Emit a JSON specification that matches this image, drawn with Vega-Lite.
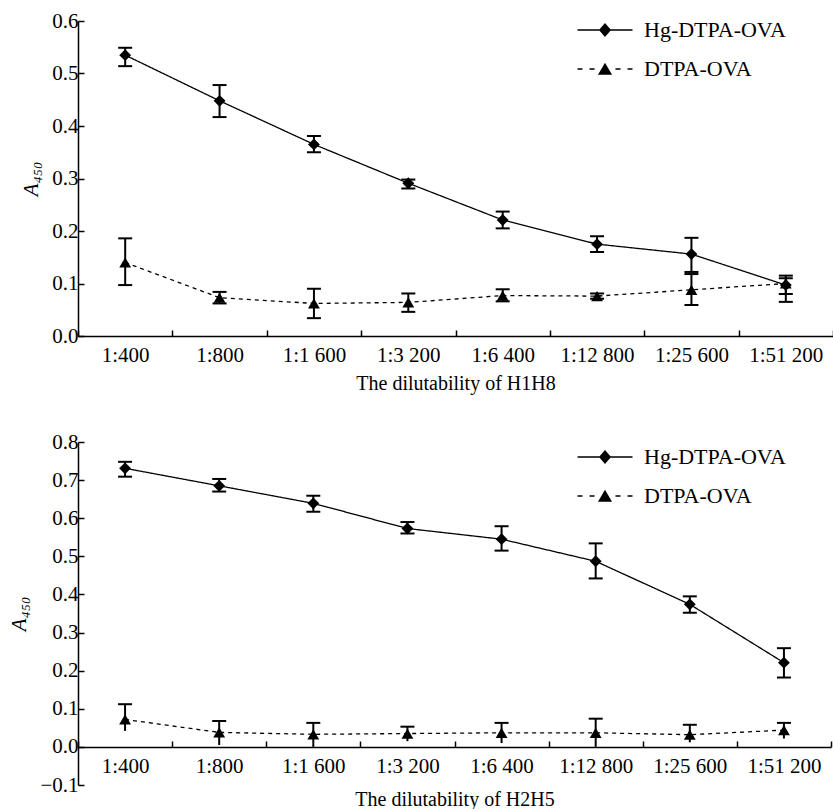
{
  "$schema": "https://vega.github.io/schema/vega-lite/v6.json",
  "padding": {"left": 8, "top": 10, "right": 0, "bottom": 0},
  "background": "white",
  "config": {
    "font": "Liberation Serif",
    "view": {"stroke": null},
    "axis": {
      "labelFont": "Liberation Serif",
      "titleFont": "Liberation Serif",
      "labelFontSize": 21,
      "titleFontSize": 21,
      "titleFontWeight": "normal",
      "labelColor": "black",
      "titleColor": "black",
      "domainColor": "black",
      "tickColor": "black",
      "domainWidth": 1.5,
      "tickWidth": 1.5,
      "grid": false
    },
    "legend": {
      "labelFont": "Liberation Serif",
      "labelFontSize": 22,
      "labelColor": "black"
    }
  },
  "spacing": 38,
  "resolve": {"legend": {"shape": "independent", "strokeDash": "independent"}, "scale": {"shape": "independent", "strokeDash": "independent"}},
  "vconcat": [
    {
      "width": 755,
      "height": 315,
      "data": {"values": [
        {"dil": "1:400", "series": "Hg-DTPA-OVA", "value": 0.535, "lo": 0.514, "hi": 0.549},
        {"dil": "1:800", "series": "Hg-DTPA-OVA", "value": 0.448, "lo": 0.417, "hi": 0.478},
        {"dil": "1:1 600", "series": "Hg-DTPA-OVA", "value": 0.365, "lo": 0.350, "hi": 0.381},
        {"dil": "1:3 200", "series": "Hg-DTPA-OVA", "value": 0.291, "lo": 0.281, "hi": 0.298},
        {"dil": "1:6 400", "series": "Hg-DTPA-OVA", "value": 0.221, "lo": 0.205, "hi": 0.237},
        {"dil": "1:12 800", "series": "Hg-DTPA-OVA", "value": 0.175, "lo": 0.160, "hi": 0.190},
        {"dil": "1:25 600", "series": "Hg-DTPA-OVA", "value": 0.156, "lo": 0.122, "hi": 0.187},
        {"dil": "1:51 200", "series": "Hg-DTPA-OVA", "value": 0.097, "lo": 0.080, "hi": 0.115},
        {"dil": "1:400", "series": "DTPA-OVA", "value": 0.140, "lo": 0.097, "hi": 0.186},
        {"dil": "1:800", "series": "DTPA-OVA", "value": 0.073, "lo": 0.062, "hi": 0.084},
        {"dil": "1:1 600", "series": "DTPA-OVA", "value": 0.062, "lo": 0.034, "hi": 0.090},
        {"dil": "1:3 200", "series": "DTPA-OVA", "value": 0.064, "lo": 0.046, "hi": 0.081},
        {"dil": "1:6 400", "series": "DTPA-OVA", "value": 0.077, "lo": 0.066, "hi": 0.089},
        {"dil": "1:12 800", "series": "DTPA-OVA", "value": 0.076, "lo": 0.071, "hi": 0.081},
        {"dil": "1:25 600", "series": "DTPA-OVA", "value": 0.088, "lo": 0.059, "hi": 0.118},
        {"dil": "1:51 200", "series": "DTPA-OVA", "value": 0.100, "lo": 0.065, "hi": 0.110}
      ]},
      "encoding": {
        "x": {
          "field": "dil", "type": "nominal", "sort": null,
          "scale": {"paddingInner": 0, "paddingOuter": 0},
          "title": "The dilutability of H1H8",
          "axis": {"labelAngle": 0, "tickBand": "extent", "tickSize": -6, "labelPadding": 14, "titlePadding": 8, "titleFontSize": 20}
        },
        "y": {"field": "value", "type": "quantitative", "title": "A₄₅₀",
          "scale": {"domain": [0, 0.6], "nice": false, "zero": false},
          "axis": {"values": [0, 0.1, 0.2, 0.3, 0.4, 0.5, 0.6], "format": ".1f", "tickSize": -6, "labelPadding": 6, "titlePadding": 10, "titleFontStyle": "italic", "labelOverlap": false, "labelBound": false, "labelFlush": false}}
      },
      "layer": [
        {
          "mark": {"type": "line", "color": "black", "strokeWidth": 1.3},
          "encoding": {
            "strokeDash": {"field": "series", "type": "nominal",
              "scale": {"domain": ["Hg-DTPA-OVA", "DTPA-OVA"], "range": [[1, 0], [4, 4]]}, "legend": null}
          }
        },
        {
          "mark": {"type": "rule", "color": "black", "strokeWidth": 2},
          "encoding": {
            "y": {"field": "lo", "type": "quantitative"},
            "y2": {"field": "hi"}
          }
        },
        {
          "mark": {"type": "tick", "color": "black", "thickness": 2, "size": 14, "orient": "horizontal", "opacity": 1},
          "encoding": {"y": {"field": "lo", "type": "quantitative"}}
        },
        {
          "mark": {"type": "tick", "color": "black", "thickness": 2, "size": 14, "orient": "horizontal", "opacity": 1},
          "encoding": {"y": {"field": "hi", "type": "quantitative"}}
        },
        {
          "mark": {"type": "point", "filled": true, "color": "black", "opacity": 1, "size": 140},
          "encoding": {
            "shape": {"field": "series", "type": "nominal",
              "scale": {"domain": ["Hg-DTPA-OVA", "DTPA-OVA"], "range": ["diamond", "triangle-up"]},
              "legend": null}
          }
        },
        {
          "mark": {"type": "point", "filled": true, "fill": "black", "opacity": 0, "size": 0},
          "encoding": {
            "shape": {"field": "series", "type": "nominal",
              "scale": {"domain": ["Hg-DTPA-OVA", "DTPA-OVA"], "range": [
                "M-2.5,-0.06H2.5V0.06H-2.5ZM0,-0.64L0.55,0L0,0.64L-0.55,0Z",
                "M-2.5,-0.06H-2.05V0.06H-2.5ZM-1.41,-0.06H-0.95V0.06H-1.41ZM0.95,-0.06H1.41V0.06H0.95ZM2.05,-0.06H2.5V0.06H2.05ZM0,-0.57L0.64,0.52L-0.64,0.52Z"
              ]},
              "legend": {
                "title": null, "orient": "none", "legendX": 516, "legendY": -2,
                "symbolSize": 484, "symbolOpacity": 1, "symbolFillColor": "black", "symbolStrokeColor": "black", "symbolStrokeWidth": 0,
                "labelFont": "Liberation Serif", "labelFontSize": 22, "labelColor": "black",
                "labelOffset": 28, "rowPadding": 17, "padding": 0
              }}
          }
        }
      ],
      "resolve": {"scale": {"shape": "independent"}, "legend": {"shape": "independent"}}
    },
    {
      "width": 753,
      "height": 343,
      "data": {"values": [
        {"dil": "1:400", "series": "Hg-DTPA-OVA", "value": 0.731, "lo": 0.709, "hi": 0.748},
        {"dil": "1:800", "series": "Hg-DTPA-OVA", "value": 0.685, "lo": 0.670, "hi": 0.703},
        {"dil": "1:1 600", "series": "Hg-DTPA-OVA", "value": 0.639, "lo": 0.617, "hi": 0.659},
        {"dil": "1:3 200", "series": "Hg-DTPA-OVA", "value": 0.573, "lo": 0.560, "hi": 0.590},
        {"dil": "1:6 400", "series": "Hg-DTPA-OVA", "value": 0.545, "lo": 0.515, "hi": 0.579},
        {"dil": "1:12 800", "series": "Hg-DTPA-OVA", "value": 0.487, "lo": 0.442, "hi": 0.534},
        {"dil": "1:25 600", "series": "Hg-DTPA-OVA", "value": 0.374, "lo": 0.352, "hi": 0.395},
        {"dil": "1:51 200", "series": "Hg-DTPA-OVA", "value": 0.221, "lo": 0.182, "hi": 0.259},
        {"dil": "1:400", "series": "DTPA-OVA", "value": 0.072, "lo": 0.042, "hi": 0.112},
        {"dil": "1:800", "series": "DTPA-OVA", "value": 0.038, "lo": 0.005, "hi": 0.068},
        {"dil": "1:1 600", "series": "DTPA-OVA", "value": 0.033, "lo": 0.0, "hi": 0.063},
        {"dil": "1:3 200", "series": "DTPA-OVA", "value": 0.035, "lo": 0.015, "hi": 0.053},
        {"dil": "1:6 400", "series": "DTPA-OVA", "value": 0.037, "lo": 0.010, "hi": 0.063},
        {"dil": "1:12 800", "series": "DTPA-OVA", "value": 0.037, "lo": 0.0, "hi": 0.074},
        {"dil": "1:25 600", "series": "DTPA-OVA", "value": 0.032, "lo": 0.012, "hi": 0.058},
        {"dil": "1:51 200", "series": "DTPA-OVA", "value": 0.044, "lo": 0.022, "hi": 0.063}
      ]},
      "encoding": {
        "x": {
          "field": "dil", "type": "nominal", "sort": null,
          "scale": {"paddingInner": 0, "paddingOuter": 0},
          "title": "The dilutability of H2H5",
          "axis": {"labelAngle": 0, "tickBand": "extent", "tickSize": -6, "labelPadding": 14, "titlePadding": 13, "titleFontSize": 20, "offset": -38}
        },
        "y": {"field": "value", "type": "quantitative", "title": "A₄₅₀",
          "scale": {"domain": [-0.1, 0.8], "nice": false, "zero": false},
          "axis": {"values": [-0.1, 0, 0.1, 0.2, 0.3, 0.4, 0.5, 0.6, 0.7, 0.8], "format": ".1f", "tickSize": -6, "labelPadding": 6, "titlePadding": 10, "titleFontStyle": "italic", "labelOverlap": false, "labelBound": false, "labelFlush": false}}
      },
      "layer": [
        {
          "mark": {"type": "line", "color": "black", "strokeWidth": 1.3},
          "encoding": {
            "strokeDash": {"field": "series", "type": "nominal",
              "scale": {"domain": ["Hg-DTPA-OVA", "DTPA-OVA"], "range": [[1, 0], [4, 4]]}, "legend": null}
          }
        },
        {
          "mark": {"type": "rule", "color": "black", "strokeWidth": 2},
          "encoding": {
            "y": {"field": "lo", "type": "quantitative"},
            "y2": {"field": "hi"}
          }
        },
        {
          "transform": [{"filter": "datum.series === 'Hg-DTPA-OVA'"}],
          "mark": {"type": "tick", "color": "black", "thickness": 2, "size": 14, "orient": "horizontal", "opacity": 1},
          "encoding": {"y": {"field": "lo", "type": "quantitative"}}
        },
        {
          "mark": {"type": "tick", "color": "black", "thickness": 2, "size": 14, "orient": "horizontal", "opacity": 1},
          "encoding": {"y": {"field": "hi", "type": "quantitative"}}
        },
        {
          "mark": {"type": "point", "filled": true, "color": "black", "opacity": 1, "size": 140},
          "encoding": {
            "shape": {"field": "series", "type": "nominal",
              "scale": {"domain": ["Hg-DTPA-OVA", "DTPA-OVA"], "range": ["diamond", "triangle-up"]},
              "legend": null}
          }
        },
        {
          "mark": {"type": "point", "filled": true, "fill": "black", "opacity": 0, "size": 0},
          "encoding": {
            "shape": {"field": "series", "type": "nominal",
              "scale": {"domain": ["Hg-DTPA-OVA", "DTPA-OVA"], "range": [
                "M-2.5,-0.06H2.5V0.06H-2.5ZM0,-0.64L0.55,0L0,0.64L-0.55,0Z",
                "M-2.5,-0.06H-2.05V0.06H-2.5ZM-1.41,-0.06H-0.95V0.06H-1.41ZM0.95,-0.06H1.41V0.06H0.95ZM2.05,-0.06H2.5V0.06H2.05ZM0,-0.57L0.64,0.52L-0.64,0.52Z"
              ]},
              "legend": {
                "title": null, "orient": "none", "legendX": 516, "legendY": 4,
                "symbolSize": 484, "symbolOpacity": 1, "symbolFillColor": "black", "symbolStrokeColor": "black", "symbolStrokeWidth": 0,
                "labelFont": "Liberation Serif", "labelFontSize": 22, "labelColor": "black",
                "labelOffset": 28, "rowPadding": 17, "padding": 0
              }}
          }
        }
      ],
      "resolve": {"scale": {"shape": "independent"}, "legend": {"shape": "independent"}}
    }
  ]
}
